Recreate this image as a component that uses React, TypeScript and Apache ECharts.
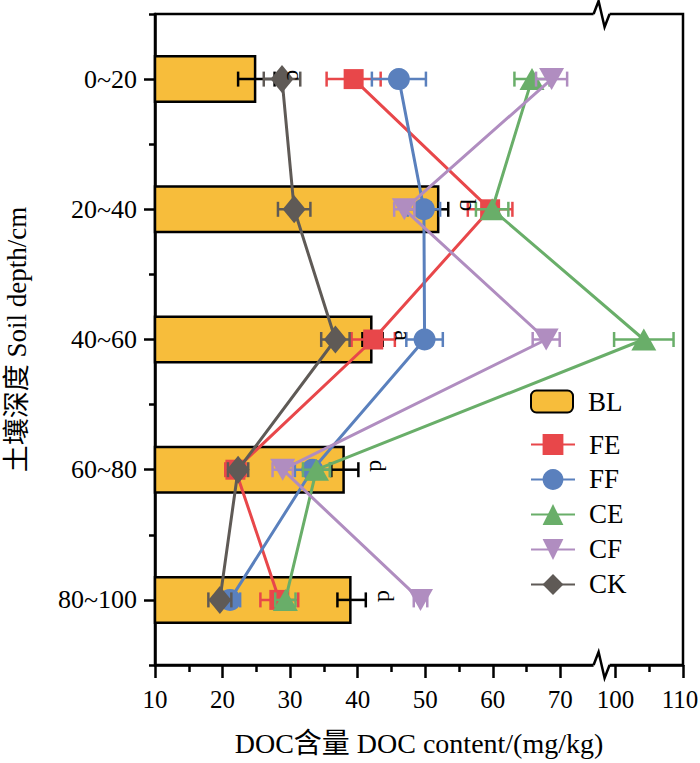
import React, { useEffect, useRef } from "react";
import * as echarts from "echarts";

// ---- data ----
const depths = ["0~20", "20~40", "40~60", "60~80", "80~100"];
const blValues = [25.0, 52.1, 42.2, 38.1, 39.1];
const blErrors = [2.7, 1.3, 1.5, 2.0, 2.1];
const blLetters = ["c", "b", "a", "d", "d"];

const feValues = [39.4, 59.6, 42.3, 21.9, 28.4];
const feErrors = [4.0, 3.3, 3.2, 1.5, 2.8];
const ffValues = [46.1, 49.8, 49.9, 33.3, 21.1];
const ffErrors = [4.0, 2.4, 2.7, 2.6, 1.5];
const ceValues = [65.8, 59.9, 104.2, 33.9, 29.3];
const ceErrors = [2.6, 2.4, 4.4, 2.0, 1.5];
const cfValues = [68.7, 46.9, 67.9, 28.9, 49.3];
const cfErrors = [2.3, 1.5, 2.0, 1.5, 1.0];
const ckValues = [28.8, 30.6, 36.7, 22.3, 19.6];
const ckErrors = [2.7, 2.4, 2.1, 1.5, 1.7];

const xMajorTicks = [10, 20, 30, 40, 50, 60, 70, 100, 110];
const xMinorTicks = [15, 25, 35, 45, 55, 65, 105];

// ---- axis break (values above the break are shifted left) ----
const BREAK_SHIFT = 21.85;
const BREAK_AT = 76.1;
const toAxis = (v: number) => (v >= 95 ? v - BREAK_SHIFT : v);
const fromAxis = (u: number) => (u > BREAK_AT ? u + BREAK_SHIFT : u);

const FONT = "'Liberation Serif', 'Times New Roman', 'Noto Sans CJK SC', serif";

const lineDefs = [
  { name: "FE", values: feValues, errors: feErrors, color: "#E8474A", symbol: "rect", size: 20, rotate: 0 },
  { name: "FF", values: ffValues, errors: ffErrors, color: "#5A80BD", symbol: "circle", size: 22, rotate: 0 },
  { name: "CE", values: ceValues, errors: ceErrors, color: "#69AE69", symbol: "triangle", size: [25, 22], rotate: 0 },
  { name: "CF", values: cfValues, errors: cfErrors, color: "#B08DC0", symbol: "triangle", size: [25, 22], rotate: 180 },
  { name: "CK", values: ckValues, errors: ckErrors, color: "#5F5A56", symbol: "diamond", size: [23, 28], rotate: 0 },
];

function errorRender(color: string, capHalf: number, width: number) {
  return (params: any, api: any) => {
    const x = api.value(0);
    const e = api.value(1);
    const yi = api.value(2);
    const p1 = api.coord([x - e, yi]);
    const p2 = api.coord([x + e, yi]);
    const style = { stroke: color, lineWidth: width };
    return {
      type: "group",
      children: [
        { type: "line", shape: { x1: p1[0], y1: p1[1], x2: p2[0], y2: p2[1] }, style },
        { type: "line", shape: { x1: p1[0], y1: p1[1] - capHalf, x2: p1[0], y2: p1[1] + capHalf }, style },
        { type: "line", shape: { x1: p2[0], y1: p2[1] - capHalf, x2: p2[0], y2: p2[1] + capHalf }, style },
      ],
    };
  };
}

export default function App() {
  const ref = useRef<HTMLDivElement>(null);

  useEffect(() => {
    if (!ref.current) return;
    const chart = echarts.init(ref.current, null, { renderer: "svg" });

    const series: any[] = [
      {
        type: "bar",
        name: "BL",
        data: blValues.map((v) => toAxis(v)),
        barWidth: 48,
        clip: true,
        itemStyle: { color: "#F7BD3B", borderColor: "#000", borderWidth: 2.5 },
        z: 2,
      },
      {
        type: "custom",
        data: blValues.map((v, i) => [toAxis(v), blErrors[i], i]),
        encode: { x: 0, y: 2 },
        renderItem: errorRender("#000", 7.5, 2.5),
        z: 3,
      },
    ];

    lineDefs.forEach((d, k) => {
      series.push({
        type: "custom",
        data: d.values.map((v, i) => [toAxis(v), d.errors[i], i]),
        encode: { x: 0, y: 2 },
        renderItem: errorRender(d.color, 7.5, 2.5),
        z: 4 + k,
      });
      series.push({
        type: "line",
        name: d.name,
        data: d.values.map((v, i) => [toAxis(v), i]),
        symbol: d.symbol,
        symbolSize: d.size,
        symbolRotate: d.rotate,
        itemStyle: { color: d.color, borderWidth: 0 },
        lineStyle: { color: d.color, width: 3 },
        z: 4 + k,
      });
    });

    series.push({
      type: "custom",
      data: blValues.map((v, i) => [toAxis(v) + blErrors[i], i]),
      encode: { x: 0, y: 1 },
      renderItem: (params: any, api: any) => {
        const p = api.coord([api.value(0), api.value(1)]);
        return {
          type: "text",
          x: p[0] + 20,
          y: p[1] - 4,
          rotation: -Math.PI / 2,
          z2: 50,
          style: {
            text: blLetters[params.dataIndex],
            fontSize: 24,
            fontFamily: FONT,
            fill: "#000",
            align: "center",
            verticalAlign: "middle",
          },
        };
      },
      z: 20,
    });

    const xMax = toAxis(110);

    chart.setOption({
      animation: false,
      backgroundColor: "#fff",
      textStyle: { fontFamily: FONT },
      grid: {
        left: 155,
        top: 14,
        width: 528,
        height: 651,
        show: true,
        borderColor: "#000",
        borderWidth: 2.5,
        backgroundColor: "transparent",
        containLabel: false,
        outerBoundsMode: "none",
      },
      legend: [
        {
          data: ["BL"],
          orient: "vertical",
          left: 530,
          top: 388,
          padding: 0,
          itemWidth: 42,
          itemHeight: 22,
          textStyle: { fontSize: 27, fontFamily: FONT, color: "#000", padding: [0, 0, 0, 10] },
          selectedMode: false,
        },
        {
          data: ["FE", "FF", "CE", "CF", "CK"],
          orient: "vertical",
          left: 530,
          top: 431,
          padding: 0,
          itemWidth: 44,
          itemHeight: 26,
          itemGap: 8,
          textStyle: { fontSize: 27, fontFamily: FONT, color: "#000", padding: [0, 0, 0, 9] },
          selectedMode: false,
        },
      ],
      xAxis: [
        {
          type: "value",
          min: 10,
          max: xMax,
          position: "bottom",
          name: "DOC含量 DOC content/(mg/kg)",
          nameLocation: "middle",
          nameGap: 64,
          nameTextStyle: { fontSize: 28, fontFamily: FONT, color: "#000" },
          axisLine: { show: true, lineStyle: { color: "#000", width: 2.5 } },
          axisTick: {
            show: true,
            length: 13,
            lineStyle: { color: "#000", width: 2.5 },
            customValues: xMajorTicks.map(toAxis),
          },
          axisLabel: {
            fontSize: 25,
            fontFamily: FONT,
            color: "#000",
            margin: 22,
            customValues: xMajorTicks.map(toAxis),
            formatter: (u: number) => {
              const s = String(Math.round(fromAxis(u)));
              return u >= xMax - 0.01 ? "{last|" + s + "}" : s;
            },
            rich: {
              last: { fontSize: 25, fontFamily: FONT, color: "#000", padding: [0, 6, 0, 0] },
            },
          },
          splitLine: { show: false },
        },
        {
          type: "value",
          min: 10,
          max: xMax,
          position: "bottom",
          axisLine: { show: false },
          axisTick: {
            show: true,
            length: 7,
            lineStyle: { color: "#000", width: 2.5 },
            customValues: xMinorTicks.map(toAxis),
          },
          axisLabel: { show: false },
          splitLine: { show: false },
        },
      ],
      yAxis: [
        {
          type: "category",
          data: depths,
          inverse: true,
          position: "left",
          name: "土壤深度 Soil depth/cm",
          nameLocation: "middle",
          nameGap: 125,
          nameTextStyle: { fontSize: 27, fontFamily: FONT, color: "#000" },
          axisLine: { show: true, lineStyle: { color: "#000", width: 2.5 } },
          axisTick: { show: true, alignWithLabel: true, length: 11, lineStyle: { color: "#000", width: 2.5 } },
          axisLabel: { fontSize: 26, fontFamily: FONT, color: "#000", margin: 18 },
          splitLine: { show: false },
        },
        {
          type: "category",
          data: depths,
          inverse: true,
          position: "left",
          axisLine: { show: false },
          axisTick: { show: true, length: 6, lineStyle: { color: "#000", width: 2.5 } },
          axisLabel: { show: false },
          splitLine: { show: false },
        },
      ],
      series,
    });

    // axis-break marks on the top and bottom frame lines
    const cx = chart.convertToPixel({ xAxisIndex: 0 } as any, BREAK_AT) as unknown as number;
    const ys = [14, 665];
    const graphic: any[] = [];
    ys.forEach((y) => {
      graphic.push({
        type: "rect",
        shape: { x: cx - 8, y: y - 3, width: 16, height: 6 },
        style: { fill: "#fff" },
        z: 100,
      });
      graphic.push({
        type: "polyline",
        shape: {
          points: [
            [cx - 8, y],
            [cx - 3, y - 13],
            [cx + 3, y + 13],
            [cx + 8, y],
          ],
        },
        style: { stroke: "#000", lineWidth: 2.5, fill: null },
        z: 101,
      });
    });
    chart.setOption({ graphic });

    return () => chart.dispose();
  }, []);

  return (
    <div
      ref={ref}
      style={{ position: "absolute", left: 0, top: 0, width: 700, height: 763, background: "#fff" }}
    />
  );
}
